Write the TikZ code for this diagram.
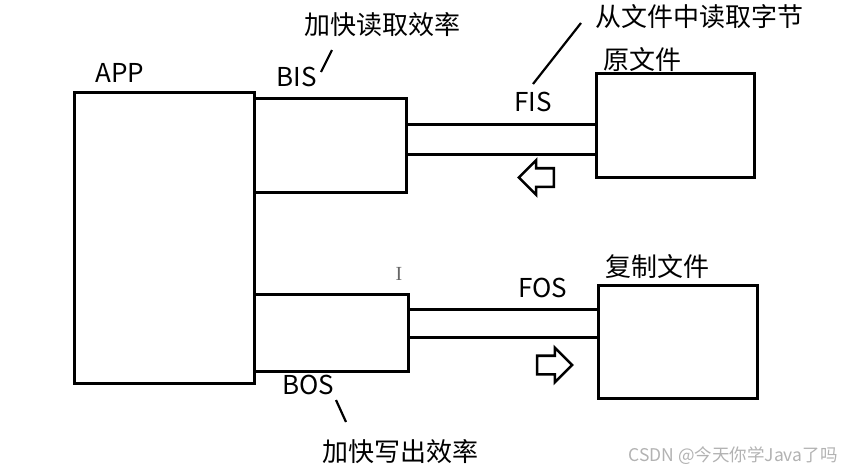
\documentclass[tikz,border=0pt]{standalone}
\usepackage{fontspec}
\setmainfont{Noto Sans CJK SC}
\newfontfamily\cursorfont{Liberation Serif}
\usetikzlibrary{shapes.arrows}

\begin{document}
\begin{tikzpicture}[x=1pt, y=-1pt, font=\fontsize{26}{30}\selectfont,
    box/.style={rectangle, draw, line width=3pt, inner sep=0pt},
    pipe/.style={line width=3pt},
    lbl/.style={inner sep=0pt},
    callout/.style={line width=2.2pt},
    flow/.style={single arrow, draw, line width=2.6pt, inner xsep=0pt, inner ysep=8pt,
      minimum height=35pt, minimum width=32pt, single arrow head extend=8pt,
      single arrow head indent=0pt}]
\useasboundingbox (0,0) rectangle (863,474);
% boxes
\node[box, minimum width=180pt, minimum height=291pt] (app) at (164,237.5) {};
\node[box, minimum width=152pt, minimum height=94pt] (bis) at (330,145) {};
\node[box, minimum width=154pt, minimum height=77pt] (bos) at (331,332.5) {};
\node[box, minimum width=158pt, minimum height=104pt] (src) at (675,125) {};
\node[box, minimum width=159pt, minimum height=113pt] (dst) at (677.5,341.5) {};
% pipes
\draw[pipe] (bis.east |- 0,124) -- (src.west |- 0,124);
\draw[pipe] (bis.east |- 0,154) -- (src.west |- 0,154);
\draw[pipe] (bos.east |- 0,309) -- (dst.west |- 0,309);
\draw[pipe] (bos.east |- 0,337) -- (dst.west |- 0,337);
% flow direction
\node[flow, shape border rotate=180] (inflow) at (541,177.5) {};
\node[flow] (outflow) at (550,365) {};
% labels
\node[lbl] (applbl) at (120,73) {APP};
\node[lbl] (bislbl) at (297,77) {BIS};
\node[lbl] (fislbl) at (533,102) {FIS};
\node[lbl] (foslbl) at (543,288) {FOS};
\node[lbl] (boslbl) at (308,385) {BOS};
\node[lbl] (srclbl) at (642,60) {原文件};
\node[lbl] (dstlbl) at (657,267) {复制文件};
\node[lbl] (bisnote) at (382,25) {加快读取效率};
\node[lbl] (fisnote) at (699.5,17) {从文件中读取字节};
\node[lbl] (bosnote) at (400,452) {加快写出效率};
% callout strokes
\coordinate (bisa) at (321,72);
\coordinate (bisb) at (332,50);
\coordinate (fisa) at (533,84);
\coordinate (fisb) at (581,23);
\coordinate (bosa) at (336,400);
\coordinate (bosb) at (346,422);
\draw[callout] (bisa) -- (bisb);
\draw[callout] (fisa) -- (fisb);
\draw[callout] (bosa) -- (bosb);
% cursor and watermark
\node[lbl, gray!80!black, font=\cursorfont\fontsize{20}{22}\selectfont] (cursor) at (399,274) {I};
\node[lbl, gray!60, font=\fontsize{17.5}{20}\selectfont] (mark) at (733,456) {CSDN @今天你学Java了吗};
\end{tikzpicture}
\end{document}
